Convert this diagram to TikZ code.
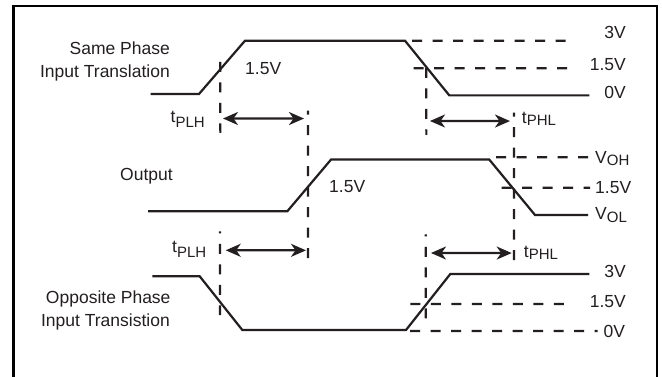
\documentclass[tikz,border=0pt]{standalone}
\usepackage{fontspec}
\setmainfont{Liberation Sans}
\usetikzlibrary{arrows.meta}
\definecolor{ink}{HTML}{231F20}
\newcommand{\txtsub}[3]{#1\raisebox{-#3pt}{\fontsize{15}{15}\selectfont #2}}
\tikzset{
  x=1pt,y=-1pt,
  frameline/.style={draw=black,line width=2.8pt},
  wave/.style={draw=ink,line width=2.2pt,line join=miter},
  dashline/.style={draw=ink,line width=2.2pt,dash pattern=on 10pt off 10.5pt},
  dotstart/.style={draw=ink,line width=2.2pt,dash pattern=on 10pt off 10.5pt,dash phase=#1},
  span/.style={draw=ink,line width=2.2pt,{Stealth[length=15pt,width=13pt,inset=4.5pt]}-{Stealth[length=15pt,width=13pt,inset=4.5pt]}},
  lblw/.style={anchor=base west,inner sep=0pt,text=ink,font=\fontsize{17.5}{20}\selectfont},
  lble/.style={anchor=base east,inner sep=0pt,text=ink,font=\fontsize{17.5}{20}\selectfont}
}
\begin{document}
\begin{tikzpicture}
\useasboundingbox (0,0) rectangle (662,377);
\fill[white] (0,0) rectangle (662,377);
% frame
\draw[frameline] (13.5,377) -- (13.5,6) -- (657,6) -- (657,377);
% dashed levels
\draw[dashline] (412,40.7) -- (568,40.75);
\draw[dashline] (413.7,68.3) -- (568,68.35);
\draw[dashline] (496,157.3) -- (588,157.35);
\draw[dashline] (501.7,187.7) -- (590,187.75);
\draw[dashline] (410.3,304) -- (564.3,304.05);
\draw[dashline] (410,331) -- (597.7,331.05);
% dashed verticals
\draw[dashline] (220.3,62) -- (220.35,133);
\draw[dotstart=6] (308,110.7) -- (308.05,258.7);
\draw[dashline] (426.3,68) -- (426.35,135);
\draw[dotstart=6] (514,112.7) -- (514.05,262);
\draw[dotstart=8] (220,231.3) -- (220.05,315);
\draw[dotstart=8] (425.7,234.3) -- (425.75,318.7);
% waves
\draw[wave] (150.5,94) -- (199,94) -- (245,40.7) -- (405,40.7) -- (449.3,95.4) -- (589.3,95.4);
\draw[wave] (148,211.3) -- (287.3,211.3) -- (331,159.6) -- (489.3,159.6) -- (535,215) -- (588,215);
\draw[wave] (152.3,276.3) -- (199.7,276.3) -- (242.3,330) -- (406,330) -- (450.3,274) -- (589.3,274);
% arrows
\coordinate (a1) at (223,118.5); \coordinate (b1) at (304,118.55);
\coordinate (a2) at (430,121);   \coordinate (b2) at (510,121.05);
\coordinate (a3) at (225.7,250.3); \coordinate (b3) at (306,250.35);
\coordinate (a4) at (431,253);   \coordinate (b4) at (511.7,253.05);
\draw[span] (a1) -- (b1);
\draw[span] (a2) -- (b2);
\draw[span] (a3) -- (b3);
\draw[span] (a4) -- (b4);
% labels
\node[lble] (same) at (170,55) {Same Phase};
\node[lble] (intr) at (170,77.3) {Input Translation};
\node[lblw] (v1) at (245,75) {1.5V};
\node[lblw] (tplh1) at (170.5,123) {\txtsub{t}{PLH}{4.5}};
\node[lble] (r3a) at (626,39) {3V};
\node[lble] (r15a) at (626,71) {1.5V};
\node[lble] (r0a) at (626,98.3) {0V};
\node[lblw] (tphl1) at (521.7,123.3) {\txtsub{t}{PHL}{1.8}};
\node[lblw] (output) at (120,181) {Output};
\node[lblw] (v2) at (329,192.5) {1.5V};
\node[lblw] (voh) at (595,164) {\txtsub{V}{OH}{2}};
\node[lblw] (r15b) at (595,193.3) {1.5V};
\node[lblw] (vol) at (595,220) {\txtsub{V}{OL}{2.6}};
\node[lblw] (tplh2) at (172,253) {\txtsub{t}{PLH}{4.5}};
\node[lblw] (tphl2) at (523.7,258) {\txtsub{t}{PHL}{1.8}};
\node[lble] (opp) at (170.7,303.7) {Opposite Phase};
\node[lble] (intn) at (170,326) {Input Transistion};
\node[lble] (r3c) at (626,277) {3V};
\node[lble] (r15c) at (626,307.7) {1.5V};
\node[lble] (r0c) at (625.3,337) {0V};
\end{tikzpicture}
\end{document}
